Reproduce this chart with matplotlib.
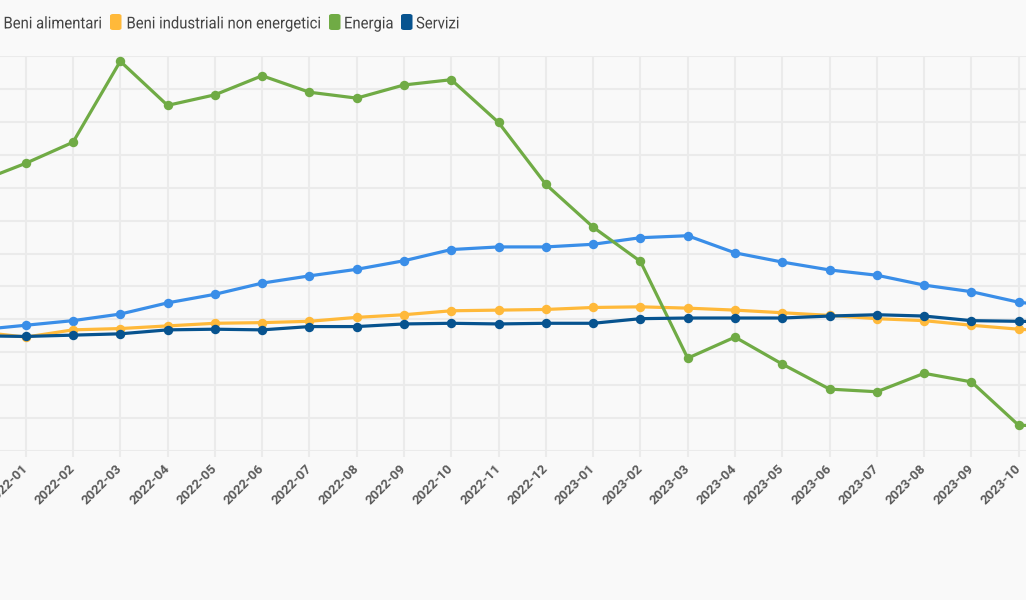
import matplotlib
matplotlib.use("Agg")
from matplotlib import pyplot as plt
from matplotlib.patches import FancyBboxPatch, PathPatch
from matplotlib.textpath import TextPath
from matplotlib.font_manager import FontProperties
from matplotlib.transforms import Affine2D, IdentityTransform, ScaledTranslation

mesi = ["2021-12", "2022-01", "2022-02", "2022-03", "2022-04", "2022-05", "2022-06",
        "2022-07", "2022-08", "2022-09", "2022-10", "2022-11", "2022-12",
        "2023-01", "2023-02", "2023-03", "2023-04", "2023-05", "2023-06",
        "2023-07", "2023-08", "2023-09", "2023-10", "2023-11"]

beni_alimentari = [-1.6, -0.9, -0.2, 0.8, 2.5, 3.8, 5.5, 6.6, 7.6, 8.9, 10.6, 11.0,
                   11.0, 11.4, 12.4, 12.7, 10.1, 8.7, 7.5, 6.7, 5.2, 4.2, 2.6, 1.8]
beni_industriali = [-1.9, -2.7, -1.6, -1.4, -1.0, -0.6, -0.5, -0.3, 0.3, 0.7, 1.3, 1.4,
                    1.5, 1.8, 1.9, 1.7, 1.4, 1.0, 0.6, 0.1, -0.2, -0.9, -1.5, -1.9]
energia = [20.9, 23.7, 26.9, 39.2, 32.5, 34.1, 37.0, 34.5, 33.6, 35.6, 36.4, 29.9,
           20.5, 14.0, 8.8, -5.9, -2.7, -6.8, -10.6, -11.0, -8.2, -9.5, -16.1, -16.2]
servizi = [-2.5, -2.6, -2.4, -2.2, -1.6, -1.5, -1.6, -1.1, -1.1, -0.7, -0.6, -0.7,
           -0.6, -0.6, 0.1, 0.2, 0.2, 0.2, 0.5, 0.7, 0.5, -0.2, -0.3, -0.4]

nomi = ["Beni alimentari", "Beni industriali non energetici", "Energia", "Servizi"]
colori = ["#3a8ee8", "#ffb93a", "#70ab45", "#07538f"]

plt.rcParams["font.family"] = ["Roboto", "DejaVu Sans"]

bg = "#f9f9f9"
griglia = "#ebebeb"

fig = plt.figure(figsize=(10.26, 6.0), dpi=100)
fig.patch.set_facecolor(bg)
ax = fig.add_axes([0, 149 / 600, 1, 395 / 600])
ax.set_facecolor(bg)

x = list(range(len(mesi)))
serie = [beni_alimentari, beni_industriali, energia, servizi]
ordine = [2, 0, 1, 3]
for i in ordine:
    ax.plot(x, serie[i], color=colori[i], lw=2.3, marker="o", ms=6.8,
            markeredgewidth=0, zorder=3 + i)

ax.set_xlim(0.4566, 22.154)
ax.set_ylim(-20, 40)
ax.set_yticks(range(-20, 41, 5))
ax.set_yticklabels([])
ax.set_xticks(x[1:23])
ax.set_xticklabels(mesi[1:23], rotation=45, ha="right", va="center",
                   rotation_mode="anchor", fontsize=9.5, fontweight="bold",
                   color="#5a5a5a")
sposta = ScaledTranslation(5 / 100, 0, fig.dpi_scale_trans)
for lab in ax.get_xticklabels():
    lab.set_transform(lab.get_transform() + sposta)
ax.tick_params(axis="x", length=4.5, width=1.5, color=griglia, pad=7)
ax.tick_params(axis="y", length=0)
ax.grid(True, color=griglia, lw=1.5, zorder=0)
ax.set_axisbelow(True)
for s in ax.spines.values():
    s.set_visible(False)

# legenda fatta a mano: testo un po' stretto come nell'originale
W, H = 1026, 600
pos_quadrati = [-13, 110, 329, 401]
pos_testi = [3.5, 126.5, 344, 416]
fp = FontProperties(family="Roboto")
for i in range(4):
    q = FancyBboxPatch((pos_quadrati[i] / W, 1 - 30 / H), 11.5 / W, 16 / H,
                       boxstyle="round,pad=0,rounding_size=0.003",
                       transform=fig.transFigure, facecolor=colori[i],
                       edgecolor="none")
    fig.patches.append(q)
    tp = TextPath((0, 0), nomi[i], size=16.3, prop=fp)
    tr = Affine2D().scale(0.91, 1).translate(pos_testi[i], H - 28.4) + IdentityTransform()
    fig.patches.append(PathPatch(tp, transform=tr, facecolor="#444444",
                                 edgecolor="none"))

fig.savefig("out.png", dpi=100, facecolor=bg)
